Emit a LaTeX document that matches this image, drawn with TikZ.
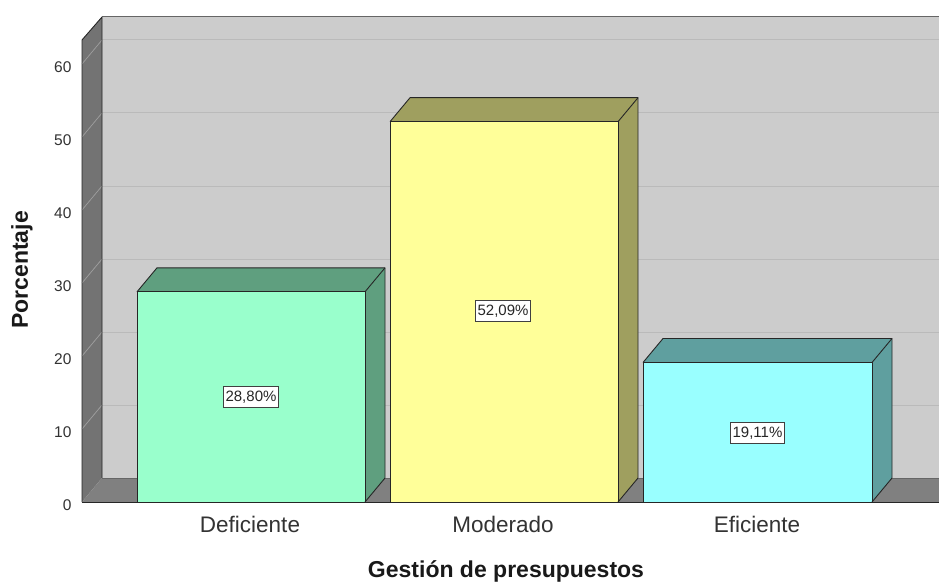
\documentclass[tikz,border=0pt]{standalone}
\usepackage{fontspec}
\setmainfont{Liberation Sans}
\definecolor{backwall}{HTML}{CCCCCC}
\definecolor{sidewall}{HTML}{737373}
\definecolor{floorc}{HTML}{808080}
\definecolor{gridc}{HTML}{BABABA}
\definecolor{sidegrid}{HTML}{A0A0A0}
\definecolor{defF}{HTML}{99FFCC}
\definecolor{defS}{HTML}{5F9F7F}
\definecolor{modF}{HTML}{FFFF99}
\definecolor{modS}{HTML}{9F9F5F}
\definecolor{efiF}{HTML}{99FFFF}
\definecolor{efiS}{HTML}{5F9F9F}
\definecolor{ticktext}{HTML}{333333}
\tikzset{
  barline/.style={draw=black!85, line width=0.9pt, line join=round},
  vallabel/.style={draw=black!75, fill=white, line width=1pt, inner xsep=2.5pt, inner ysep=4pt, text=black!85, font=\fontsize{15}{17}\selectfont},
  ticklabel/.style={anchor=east, text=ticktext, font=\fontsize{15.5}{17}\selectfont},
  catlabel/.style={text=ticktext, font=\fontsize{22.5}{25}\selectfont},
  axtitle/.style={text=black!90, font=\bfseries\fontsize{23}{25}\selectfont}
}
\newcommand\drawbarthreed[5]{% x0, x1, ytop, front, side
  \fill[#5] (#2,502) -- (#2+20,478) -- (#2+20,#3-24) -- (#2,#3) -- cycle;
  \fill[#5] (#1,#3) -- (#1+20,#3-24) -- (#2+20,#3-24) -- (#2,#3) -- cycle;
  \fill[#4] (#1,502) rectangle (#2,#3);
  \draw[barline] (#1,502) rectangle (#2,#3);
  \draw[barline] (#1,#3) -- (#1+20,#3-24) -- (#2+20,#3-24) -- (#2+20,478) -- (#2,502);
  \draw[barline] (#2,#3) -- (#2+20,#3-24);
}
\begin{document}
\begin{tikzpicture}[x=1pt,y=-1pt]
\useasboundingbox (0,0) rectangle (939,583);
\fill[white] (0,0) rectangle (939,583);
\begin{scope}
\clip (0,0) rectangle (939,583);
% back wall
\fill[backwall] (102,17) rectangle (960,478);
\draw[gray!80!black, line width=1pt] (102,17) -- (960,17);
% gridlines on back wall
\foreach \v in {10,20,30,40,50,60}{
  \pgfmathsetmacro\yb{478-7.3*\v}
  \draw[gridc, line width=1pt] (102,\yb) -- (960,\yb);
}
% side wall
\fill[sidewall] (82,40) -- (102,17) -- (102,478) -- (82,502) -- cycle;
\foreach \v in {10,20,30,40,50,60}{
  \pgfmathsetmacro\yb{478-7.3*\v}
  \pgfmathsetmacro\yf{502-7.3*\v}
  \draw[sidegrid, line width=0.7pt] (82,\yf) -- (102,\yb);
}
% floor
\fill[floorc] (82,502) -- (102,478) -- (960,478) -- (940,502) -- cycle;
\draw[black!85, line width=0.9pt, line join=round] (82,502) -- (82,40) -- (102,17) -- (102,478);
\draw[black!85, line width=0.9pt] (82,502) -- (940,502);
\draw[black!85, line width=0.9pt] (940,502) -- (960,478);
\draw[black!60, line width=0.6pt] (102,478) -- (960,478);
% bars
\drawbarthreed{137}{365}{291.8}{defF}{defS}
\drawbarthreed{390}{618}{121.7}{modF}{modS}
\drawbarthreed{643}{872}{362.5}{efiF}{efiS}
\end{scope}
% value labels
\node[vallabel] (vdef) at (251,397) {28,80\%};
\node[vallabel] (vmod) at (503,311) {52,09\%};
\node[vallabel] (vefi) at (757.5,433) {19,11\%};
% tick labels
\foreach \v in {0,10,20,30,40,50,60}{
  \pgfmathsetmacro\yf{505-7.3*\v}
  \node[ticklabel] (t\v) at (75,\yf) {\v};
}
% category labels
\node[catlabel] (cdef) at (250,524) {Deficiente};
\node[catlabel] (cmod) at (503,524) {Moderado};
\node[catlabel] (cefi) at (757,524) {Eficiente};
% axis titles
\node[axtitle] (xt) at (506,571) {Gestión de presupuestos};
\node[axtitle, rotate=90] (yt) at (22,270) {Porcentaje};
\end{tikzpicture}
\end{document}
